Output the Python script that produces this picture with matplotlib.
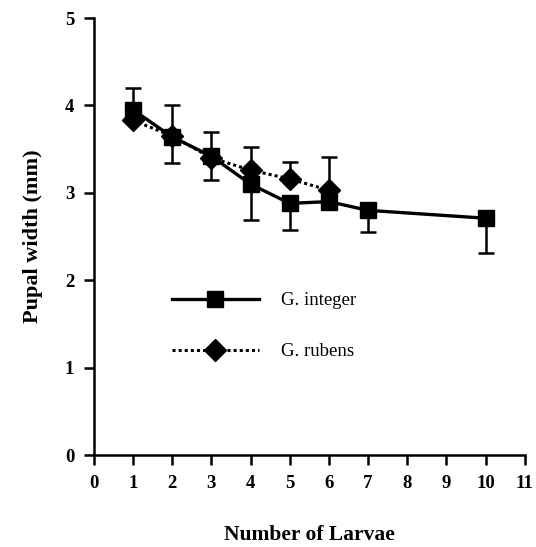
import numpy as np
import matplotlib
matplotlib.use("Agg")
import matplotlib.pyplot as plt

plt.rcParams['font.family'] = ['Liberation Serif', 'DejaVu Serif']

# G. integer (solid line, squares) - error bars drawn downward
x_integer = [1, 2, 3, 4, 5, 6, 7, 10]
y_integer = [3.95, 3.64, 3.42, 3.10, 2.88, 2.90, 2.80, 2.71]
err_integer = [0.0, 0.30, 0.27, 0.41, 0.31, 0.0, 0.25, 0.40]

# G. rubens (dotted line, diamonds) - error bars drawn upward
x_rubens = [1, 2, 3, 4, 5, 6]
y_rubens = [3.83, 3.65, 3.40, 3.26, 3.16, 3.03]
err_rubens = [0.37, 0.35, 0.30, 0.26, 0.19, 0.38]

fig = plt.figure(figsize=(5.36, 5.47), dpi=100)
ax = fig.add_axes([0.175, 0.168, 0.804, 0.799])

# one-sided error bars: stem + cap at the far end only
xi = np.array(x_integer)
yi = np.array(y_integer)
ei = np.array(err_integer)
m = ei > 0
ax.vlines(xi[m], yi[m] - ei[m], yi[m], color='black', linewidth=1.8)
ax.plot(xi[m], yi[m] - ei[m], linestyle='none', marker='_', markersize=11,
        markeredgewidth=1.8, color='black')

xr = np.array(x_rubens)
yr = np.array(y_rubens)
er = np.array(err_rubens)
ax.vlines(xr, yr, yr + er, color='black', linewidth=1.8)
ax.plot(xr, yr + er, linestyle='none', marker='_', markersize=11,
        markeredgewidth=1.8, color='black')

ax.plot(x_rubens, y_rubens, color='black', linestyle=(0, (1, 1)), linewidth=2.2,
        marker='D', markersize=11, label='G. rubens', zorder=3)
ax.plot(x_integer, y_integer, color='black', linestyle='-', linewidth=2.4,
        marker='s', markersize=12, label='G. integer', zorder=4)

ax.set_xlim(0, 11)
ax.set_ylim(0, 5)
ax.set_xticks(range(0, 12))
ax.set_yticks(range(0, 6))
ax.spines['top'].set_visible(False)
ax.spines['right'].set_visible(False)
ax.spines['left'].set_linewidth(1.8)
ax.spines['bottom'].set_linewidth(1.8)
ax.tick_params(direction='out', length=7, width=1.8, labelsize=13.5, pad=7)
for lab in ax.get_xticklabels() + ax.get_yticklabels():
    lab.set_fontweight('bold')

ax.set_xlabel('Number of Larvae', fontsize=15.5, fontweight='bold', labelpad=24)
ax.set_ylabel('Pupal width (mm)', fontsize=16, fontweight='bold', labelpad=16)

handles, labels = ax.get_legend_handles_labels()
ax.legend(handles[::-1], labels[::-1], loc='center left', bbox_to_anchor=(0.143, 0.295),
          frameon=False, fontsize=13.5, handlelength=4.6, handletextpad=1.2,
          labelspacing=1.8)

fig.savefig('out.png', dpi=100)
